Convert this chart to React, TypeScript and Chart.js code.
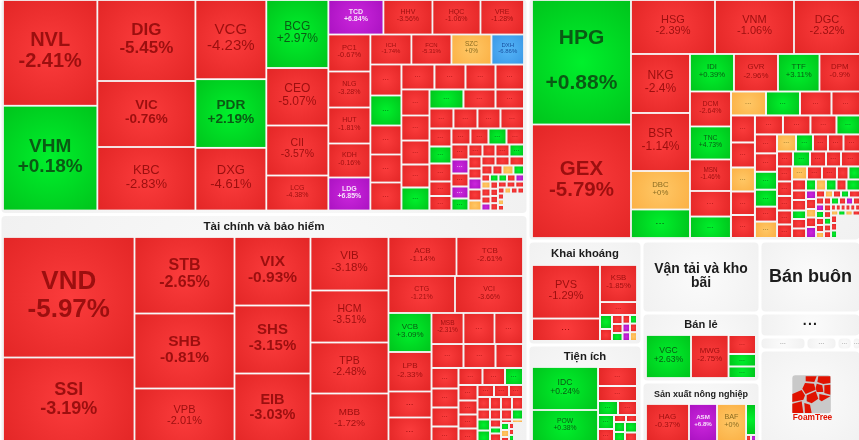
import React, { useEffect, useRef } from "react";
import { Chart, registerables, DatasetController, Element } from "chart.js";

type Tree = number | { d: "h" | "v"; c: Tree[] };
const H = (...c: Tree[]): Tree => ({ d: "h", c });
const V = (...c: Tree[]): Tree => ({ d: "v", c });

// ---------- Data: tickers, % change, weight (null change = empty slot) ----------
const estateTickers = ["NVL","VHM","DIG","VIC","KBC","VCG","PDR","DXG","BCG","CEO","CII","LCG","TCD","HHV","HQC","VRE","PC1","NLG","HUT","KDH","LDG","ICH","FCN","SZC","DXH"];
const estateChanges = [-2.41,0.18,-5.45,-0.76,-2.83,-4.23,2.19,-4.61,2.97,-5.07,-3.57,-4.38,6.84,-3.56,-1.06,-1.28,-0.67,-3.28,-1.81,-0.16,6.85,-1.74,-5.31,0,-6.86,
  -1,1,-1,-1,-1, -1,-1,-1,-1, -1,-1,-1,-1,1, 1,-1,-1, -1,-1,-1,-1, -1,1,-1,-1,-1, -1,-1,1,-1, -1,6.9,-1,6.9,1, -1,-1,-1,1, -1,-1,6.9,-1,0, -1,-1,-1, -1,-1,0,1, -1,1,1,-1,6.9,
  0,-1,-1,6.9, -1,-1,-1,-1, -1,-1,-1, -1,0,-1,-1, -1,0,-1, null];
const estateWeights = [9970,9875,7938,6468,6223,5609,4864,4438,4216,3565,3100,2170,1898,1690,1656,1500,1554,1512,1512,1428,1386,1230,1200,1200,975,
  961,930,899,868,868, 825,775,750,712, 728,700,672,644,644, 646,608,541, 480,480,460,470, 396,374,396,319,319, 304,288,288,280, 255,238,221,204,204, 168,156,168,174, 156,130,143,143,130, 126,126,130, 99,90,99,95, 60,60,60,60,60,
  63,72,63,63, 54,54,54,55, 52,52,52, 39,39,39,39, 36,33,33, 340];
const e1 = H(V(4),V(4),V(H(3),H(4),H(V(3),1)));
const e2 = V(H(3),H(4),H(5),e1);
const e3 = H(V(5),e2);
const e4 = V(H(4),e3);
const e5 = H(V(5),e4);
const e6 = V(H(4),e5);
const e7 = H(V(5),e6);
const e8 = V(H(3),H(4),e7);
const e9 = H(V(5),e8);
const e10 = V(H(4),e9);
const e11 = H(V(5),e10);
const e12 = V(H(4),e11);
const e13 = H(V(5),e12);
const estateShape = H(V(2),V(3),V(3),V(4),V(H(4),e13));

const financeTickers = ["VND","SSI","STB","SHB","VPB","VIX","SHS","EIB","VIB","HCM","TPB","MBB","ACB","TCB","CTG","VCI","VCB","LPB","...","...","MSB"];
const financeChanges = [-5.97,-3.19,-2.65,-0.81,-2.01,-0.93,-3.15,-3.03,-3.18,-3.51,-2.48,-1.72,-1.14,-2.61,-1.21,-3.66,3.09,-2.33,-1,-1,-2.31,
  -1,-1, -1,-1,-1, -1,-1,-1,-1, -1,-1,1, -1,-1,-1,-1, -1,-1,-1, -1,-1,-1,-1, -1,-1,-1,1, 1,1, -1,1,-1, -1,0, 1,0,-1, -1,-1,1,-1, null];
const financeWeights = [15846,11506,7650,7500,5650,5206,5168,5434,4173,4056,3978,4017,2652,2594,2461,2516,1677,1699,1118,1183,992,
  961,884, 768,768,660, 554,513,513,500, 408,383,306, 295,266,266,314, 198,180,168, 156,138,138,138, 125,110,110,110, 138,181, 88,66,127, 38,38, 56,56,64, 30,30,30,20, 198];
const f1 = V(H(2),H(V(3),V(4),1));
const f2 = H(V(2),V(3),f1);
const f3 = V(H(3),H(4),H(4),f2);
const f4 = H(V(4),f3);
const f5 = V(H(3),f4);
const f6 = H(V(4),f5);
const f7 = V(H(3),H(3),f6);
const f8 = H(V(4),f7);
const financeShape = H(V(2),V(3),V(3),V(4),V(H(2),H(2),f8));

const materialsTickers = ["HPG","GEX","HSG","VNM","DGC","NKG","BSR","DBC","...","IDI","GVR","TTF","DPM","DCM","TNC","MSN"];
const materialsChanges = [0.88,-5.79,-2.39,-1.06,-2.32,-2.4,-1.14,0,1,0.39,-2.96,3.11,-0.9,-2.64,4.73,-1.46,-1,1,
  0,1,-1,-1, -1,-1,0,-1,-1, -1,-1,-1,1, -1,-1,1,1,-1,0, 0,1,-1,-1,-1, -1,1,-1,-1,-1, -1,-1,-1,-1,-1, 0,-1,-1,-1,1, -1,1,0,1,-1,1,
  -1,-1,1,-1,-1, 6.9,-1,0,-1,6.9, -1,0,-1,1,-1, -1,-1,1,-1,6.9,-1, 6.9,1,-1,-1,0, -1,-1,1,-1,-1, -1,-1,-1,-1,-1,-1, 0,1,0,-1, -1,-1,1, null];
const materialsWeights = [12326,11237,4536,4266,3564,3481,3422,2272,1682,1650,1650,1556,1519,1435,1353,1292,1046,882,
  840,816,756,684, 648,600,576,564,552, 532,522,494,447, 418,407,396,374,330,363, 323,289,255,264,281, 240,255,240,225,285, 225,218,218,210,203, 195,195,195,150,150, 154,110,110,116,110,149,
  133,147,119,133,133, 85,100,85,95,110, 63,56,56,56,77, 56,49,56,49,49,49, 52,56,56,56,48, 47,47,47,47,47, 29,29,29,29,29,29, 36,36,36,37, 45,45,45, 517];
const m1 = V(H(6),H(4),H(V(3),1));
const m2 = H(V(5),V(5),m1);
const m3 = V(H(5),H(6),m2);
const m4 = H(V(5),V(5),m3);
const m5 = V(H(5),H(6),m4);
const m6 = H(V(5),m5);
const m7 = V(H(5),H(5),m6);
const m8 = H(V(6),m7);
const m9 = V(H(4),m8);
const m10 = H(V(5),m9);
const m11 = V(H(4),m10);
const m12 = H(V(5),m11);
const m13 = V(H(4),m12);
const m14 = H(V(4),m13);
const materialsShape = H(V(2),V(H(3),m14));

const miningTickers = ["PVS","...","KSB"];
const miningChanges = [-1.29,-1,-1.85,-1, 1,-1, -1,-1,1, -1,6.9,6.9, 1,-1,0];
const miningWeights = [3638,1530,1369,481, 168,144, 95,95,84, 65,65,65, 60,60,62];
const miningShape = H(V(2),V(2,H(V(2),V(3),V(3),V(3))));

const utilityTickers = ["IDC","POW"];
const utilityChanges = [0.24,0.38,-1,-1, 1,-1, 1,-1, -1,-1, 1,1, 1,-1];
const utilityWeights = [2838,2178,741,585, 280,266, 224,224, 84,77, 110,121, 126,126];
const utilityShape = H(V(2),V(2,H(2),H(V(2),V(H(2),H(V(2),V(2))))));

const retailTickers = ["VGC","MWG"];
const retailChanges = [2.63,-2.75,-1,1,1];
const retailWeights = [1935,1612,522,344,316];
const retailShape = H(2,V(3));

const farmTickers = ["HAG","ASM","BAF"];
const farmChanges = [-0.37,6.8,0,1,-1,6.9];
const farmWeights = [1591,1036,1073,310,30,30];
const farmShape = H(3,V(1,H(2)));

const panelTitles = ["","Tài chính và bảo hiểm","","Khai khoáng","Tiện ích","Vận tải và kho bãi","Bán lẻ","Sản xuất nông nghiệp","Bán buôn","...","...","...","...","...",""];
const panelWeights = [114312,122760,80919,11856,11628,8496,8142,7670,7272,2424,598,403,197,115,9797];
const panelShape = H(V(2),V(1,H(V(2),V(3),V(1,1,H(4),1))));

// ---------- Styling tables ----------
const panelContents: Record<number, any> = {
  0: { t: estateTickers, c: estateChanges, w: estateWeights, s: estateShape, pad: [1.5, 0.5, 2.5, 2.5] },
  1: { t: financeTickers, c: financeChanges, w: financeWeights, s: financeShape, pad: [1.5, 21, 3.5, 0.5] },
  2: { t: materialsTickers, c: materialsChanges, w: materialsWeights, s: materialsShape, pad: [2.5, 0.5, -0.5, 1.5] },
  3: { t: miningTickers, c: miningChanges, w: miningWeights, s: miningShape, pad: [2.5, 22.5, 3.5, 2.5] },
  4: { t: utilityTickers, c: utilityChanges, w: utilityWeights, s: utilityShape, pad: [2.5, 20.5, 3.5, 2.5] },
  6: { t: retailTickers, c: retailChanges, w: retailWeights, s: retailShape, pad: [2.5, 20.5, 2.5, 2.5] },
  7: { t: farmTickers, c: farmChanges, w: farmWeights, s: farmShape, pad: [2.5, 20.5, 2.5, 4.5] },
};
const titleFonts: Record<number, number> = { 1: 11.6, 3: 11.3, 4: 11.3, 5: 13.9, 6: 11.1, 7: 9, 8: 18, 9: 14, 10: 6, 11: 6, 12: 5, 13: 5 };
const labelFonts: Record<string, [number, number]> = {
  NVL:[20,1],VHM:[19,1],DIG:[17,1],VIC:[13.5,1],KBC:[13,0],VCG:[15,0],PDR:[13.7,1],DXG:[13,0],BCG:[12,0],CEO:[12,0],CII:[10.5,0],LCG:[7,0],
  TCD:[7,1],HHV:[7,0],HQC:[7,0],VRE:[7,0],PC1:[7.5,0],NLG:[7,0],HUT:[7,0],KDH:[7,0],LDG:[7,1],ICH:[6,0],FCN:[6,0],SZC:[6.5,0],DXH:[6,0],
  VND:[26,1],SSI:[18,1],STB:[16,1],SHB:[15.5,1],VPB:[11,0],VIX:[15.5,1],SHS:[15,1],EIB:[14.5,1],VIB:[11.5,0],HCM:[10.5,0],TPB:[10.5,0],MBB:[9.8,0],
  ACB:[8,0],TCB:[8,0],CTG:[7,0],VCI:[7,0],VCB:[8,0],LPB:[8,0],MSB:[6.5,0],
  HPG:[21,1],GEX:[20.5,1],HSG:[11,0],VNM:[11,0],DGC:[11,0],NKG:[12,0],BSR:[12,0],DBC:[7.8,0],IDI:[7.7,0],GVR:[7.9,0],TTF:[7.8,0],DPM:[7.8,0],DCM:[7,0],TNC:[6.8,0],MSN:[6.3,0],
  PVS:[11,0],KSB:[7.8,0],IDC:[8.6,0],POW:[6.8,0],VGC:[8.6,0],MWG:[7.9,0],HAG:[8,0],ASM:[6.2,1],BAF:[7.2,0],
};
const wideLeading = ["HPG"];

const PALETTE = {
  red: ["#fb3c3c", "#e32626", "#9c0f0f"],
  green: ["#00f02c", "#00c41c", "#0a5a14"],
  orange: ["#ffc765", "#fbb146", "#8a6c22"],
  purple: ["#cb26dc", "#ab12c2", "#f6e0fa"],
  blue: ["#55b4f8", "#3a98e6", "#174f9e"],
};
const paletteFor = (v: number) => (v >= 6.5 ? PALETTE.purple : v <= -6.5 ? PALETTE.blue : v > 0 ? PALETTE.green : v < 0 ? PALETTE.red : PALETTE.orange);
const pctText = (v: number) => (v >= 0 ? "+" : "") + v + "%";
const SANS = '"Liberation Sans", Arial, sans-serif';

// ---------- Slice layout driven only by the weights ----------
function build(node: Tree, weights: number[], cur: { i: number }): any {
  const n = node as any;
  const c: any[] = [];
  for (const ch of n.c) {
    if (typeof ch === "number") {
      for (let k = 0; k < ch; k++) { const i = cur.i++; c.push({ i, w: weights[i] }); }
    } else c.push(build(ch, weights, cur));
  }
  return { d: n.d, c, w: c.reduce((a, b) => a + b.w, 0) };
}
function place(n: any, x0: number, y0: number, x1: number, y1: number, out: any[]) {
  if (n.c === undefined) { out[n.i] = { x0, y0, x1, y1 }; return; }
  let p = n.d === "h" ? x0 : y0;
  const span = n.d === "h" ? x1 - x0 : y1 - y0;
  for (const c of n.c) {
    const s = (span * c.w) / n.w;
    if (n.d === "h") place(c, p, y0, p + s, y1, out); else place(c, x0, p, x1, p + s, out);
    p += s;
  }
}
function boxes(shape: Tree, weights: number[], x0: number, y0: number, x1: number, y1: number) {
  const out: any[] = [];
  place(build(shape, weights, { i: 0 }), x0, y0, x1, y1, out);
  return out;
}

// ---------- Chart.js treemap element + controller ----------
class CellElement extends (Element as any) {
  static id = "cell";
  static defaults = {};
  draw(ctx: CanvasRenderingContext2D) {
    const { px0, py0, px1, py1, cell } = this as any;
    if (cell.change === null) return;
    const g = Math.min(px1 - px0, py1 - py0) < 25 ? 1 : 0.9;
    const x = px0 + g, y = py0 + g, w = px1 - px0 - 2 * g, h = py1 - py0 - 2 * g;
    const pal = paletteFor(cell.change);
    const cx = x + w / 2, cy = y + h / 2;
    const grad = ctx.createRadialGradient(cx, cy, 0, cx, cy, Math.hypot(w, h) / 2);
    grad.addColorStop(0, pal[0]);
    grad.addColorStop(1, pal[1]);
    ctx.fillStyle = grad;
    ctx.fillRect(x, y, w, h);
    ctx.textAlign = "center";
    ctx.textBaseline = "middle";
    ctx.fillStyle = pal[2];
    if (cell.ticker === "...") {
      if (w < 12 || h < 8) return;
      const f = Math.max(5, Math.min(10, Math.sqrt(w * h) * 0.2));
      ctx.font = `bold ${f}px ${SANS}`;
      (ctx as any).letterSpacing = `${f * 0.12}px`;
      ctx.fillText("...", cx, cy - f * 0.2);
      (ctx as any).letterSpacing = "0px";
      return;
    }
    const cfg = labelFonts[cell.ticker];
    const f = cfg ? cfg[0] : 7;
    ctx.font = `${cfg && cfg[1] ? "bold " : ""}${f}px ${SANS}`;
    const lead = wideLeading.includes(cell.ticker) ? f * 2.1 : f * 1.05;
    const my = cy - 1.5;
    ctx.fillText(cell.ticker, cx, my - lead / 2);
    ctx.fillText(pctText(cell.change), cx, my + lead / 2);
  }
}

class TreemapController extends (DatasetController as any) {
  static id = "treemap";
  static defaults = { dataElementType: "cell", datasetElementType: false };
  static overrides = {};
  parse() {}
  update() {
    const meta = this._cachedMeta;
    this.updateElements(meta.data, 0, meta.data.length);
  }
  updateElements(els: any[], start: number, count: number) {
    const { xScale, yScale } = this._cachedMeta;
    const data = this.getDataset().data;
    for (let i = start; i < start + count; i++) {
      const d = data[i];
      Object.assign(els[i], {
        x: xScale.getPixelForValue((d.x0 + d.x1) / 2),
        y: yScale.getPixelForValue((d.y0 + d.y1) / 2),
        px0: xScale.getPixelForValue(d.x0),
        px1: xScale.getPixelForValue(d.x1),
        py0: yScale.getPixelForValue(d.y0),
        py1: yScale.getPixelForValue(d.y1),
        cell: d,
      });
    }
  }
}

Chart.register(...registerables, TreemapController as any, CellElement as any);

const ROOT = [0, -2, 861, 447];
const PANEL_GAP = 1.5;
const panelRects = boxes(panelShape, panelWeights, ROOT[0], ROOT[1], ROOT[2], ROOT[3]).map((r) => ({
  x0: r.x0 + PANEL_GAP, y0: r.y0 + PANEL_GAP, x1: r.x1 - PANEL_GAP, y1: r.y1 - PANEL_GAP,
}));

function buildDatasets() {
  const sets: any[] = [];
  Object.keys(panelContents).forEach((k) => {
    const idx = +k;
    const p = panelContents[idx];
    const r = panelRects[idx];
    const b = boxes(p.s, p.w, r.x0 + p.pad[0], r.y0 + p.pad[1], r.x1 - p.pad[2], r.y1 - p.pad[3]);
    sets.push({
      label: panelTitles[idx] || "group " + idx,
      data: b.map((q, i) => ({ ...q, ticker: p.t[i] ?? "...", change: p.c[i], weight: p.w[i] })),
    });
  });
  return sets;
}

const LOGO_POLYS = [
  [[62,25],[95,25],[88,42],[62,40]],
  [[100,25],[136,25],[136,45],[115,48],[97,42]],
  [[60,45],[87,47],[92,65],[62,78],[52,62]],
  [[95,47],[112,52],[115,72],[95,72],[92,60]],
  [[118,52],[136,50],[136,80],[118,75]],
  [[22,78],[50,66],[60,82],[55,95],[22,102]],
  [[65,82],[92,70],[100,92],[80,106],[65,100]],
  [[22,107],[50,100],[55,135],[22,135]],
  [[58,105],[75,110],[80,135],[60,135]],
  [[103,78],[136,85],[110,100],[103,95]],
];

const panelsPlugin = {
  id: "panels",
  beforeDatasetsDraw(chart: any) {
    const { ctx, scales: { x, y } } = chart;
    ctx.save();
    ctx.fillStyle = "#ffffff";
    ctx.fillRect(0, 0, chart.width, chart.height);
    panelRects.forEach((r, i) => {
      const x0 = x.getPixelForValue(r.x0), x1 = x.getPixelForValue(r.x1);
      const y0 = y.getPixelForValue(r.y0), y1 = y.getPixelForValue(r.y1);
      const cx = (x0 + x1) / 2, cy = (y0 + y1) / 2;
      const grad = ctx.createRadialGradient(cx, cy, 0, cx, cy, Math.hypot(x1 - x0, y1 - y0) / 2);
      grad.addColorStop(0, "#fbfbfb");
      grad.addColorStop(1, "#f1f1f1");
      ctx.fillStyle = grad;
      ctx.beginPath();
      ctx.roundRect(x0, y0, x1 - x0, y1 - y0, 4);
      ctx.fill();
      const title = panelTitles[i];
      if (!title) return;
      const f = titleFonts[i];
      const big = !panelContents[i];
      ctx.font = `bold ${f}px ${SANS}`;
      ctx.textAlign = "center";
      ctx.textBaseline = "middle";
      ctx.fillStyle = big && f < 10 ? "#999999" : "#1c1c1c";
      if (big) {
        if (title === "Vận tải và kho bãi") {
          ctx.fillText("Vận tải và kho", cx, cy - 8);
          ctx.fillText("bãi", cx, cy + 6);
        } else if (title === "...") {
          (ctx as any).letterSpacing = f > 10 ? "1.2px" : "0.3px";
          ctx.fillText(title, cx, cy - f * 0.25);
          (ctx as any).letterSpacing = "0px";
        } else ctx.fillText(title, cx, cy);
      } else {
        ctx.fillText(title, cx, y0 + panelContents[i].pad[1] / 2 + 0.5);
      }
    });
    // FoamTree badge in the last panel
    const ox = 785, oy = 368;
    const px = (v: number) => ox + v / 3, py = (v: number) => oy + v / 3;
    ctx.fillStyle = "#c9c9c9";
    ctx.beginPath();
    ctx.roundRect(px(22), py(22), 38.5, 38, 3);
    ctx.fill();
    ctx.fillStyle = "#e01200";
    LOGO_POLYS.forEach((poly) => {
      ctx.beginPath();
      poly.forEach(([a, b], i) => (i ? ctx.lineTo(px(a), py(b)) : ctx.moveTo(px(a), py(b))));
      ctx.closePath();
      ctx.fill();
    });
    ctx.font = `bold 8.4px ${SANS}`;
    ctx.textAlign = "center";
    ctx.textBaseline = "middle";
    ctx.fillStyle = "#e01200";
    ctx.fillText("FoamTree", 812.5, 418);
    ctx.restore();
  },
};

export default function App() {
  const ref = useRef<HTMLCanvasElement>(null);
  useEffect(() => {
    document.body.style.margin = "0";
    const chart = new Chart(ref.current as any, {
      type: "treemap" as any,
      data: { datasets: buildDatasets() },
      plugins: [panelsPlugin],
      options: {
        animation: false,
        responsive: false,
        events: [],
        layout: { padding: 0 },
        plugins: { legend: { display: false }, tooltip: { enabled: false } },
        scales: {
          x: { type: "linear", min: 0, max: 859, display: false },
          y: { type: "linear", min: 0, max: 440, reverse: true, display: false },
        },
      } as any,
    });
    return () => chart.destroy();
  }, []);
  return (
    <div style={{ position: "absolute", left: 0, top: 0, width: 859, height: 440, overflow: "hidden" }}>
      <canvas ref={ref} width={859} height={440} style={{ display: "block" }} />
    </div>
  );
}
